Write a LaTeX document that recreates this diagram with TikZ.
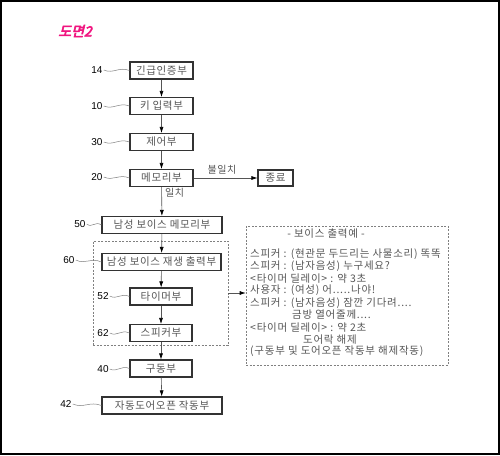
\documentclass[tikz,border=0pt]{standalone}
\usepackage{fontspec}
\setmainfont{Liberation Sans}
\newfontfamily\kr[LetterSpace=6]{Noto Sans CJK KR}
\newfontfamily\krv[LetterSpace=7]{Noto Sans CJK KR}
\newfontfamily\krtitle[FakeSlant=0.25,FakeBold=4]{Noto Sans CJK KR}
\usetikzlibrary{arrows.meta,calc}
\definecolor{boxline}{HTML}{333333}
\definecolor{txt}{HTML}{555555}
\definecolor{pinkt}{HTML}{F0147F}
\begin{document}
\begin{tikzpicture}[x=1pt,y=-1pt,
  box/.style={draw=boxline, line width=1.1pt, fill=white, minimum height=17pt, inner sep=0pt, text=txt, font=\kr\fontsize{10.5}{12}\selectfont},
  num/.style={font=\fontsize{10}{12}\selectfont, inner sep=0pt},
  conn/.style={draw=txt, line width=0.6pt, -{Latex[length=6pt,width=4pt,color=black]}},
  lead/.style={draw=gray, line width=0.5pt},
  grpbox/.style={draw=gray, line width=0.6pt, dash pattern=on 2pt off 1.5pt},
  vtext/.style={font=\krv\fontsize{10.5}{12}\selectfont, text=txt, inner sep=0pt, anchor=west},
  lbl/.style={font=\kr\fontsize{10}{12}\selectfont, text=txt, inner sep=0pt}
]
\useasboundingbox (0,0) rectangle (500,455);
\draw[line width=2pt] (1,1) rectangle (499,454);

\node[font=\krtitle\fontsize{14}{16}\selectfont, text=pinkt, inner sep=0pt] (title) at (75,31) {도면2};

% boxes
\node[box, minimum width=63pt] (b14) at (161.5,70.5) {긴급인증부};
\node[box, minimum width=63pt] (b10) at (161.5,106) {키 입력부};
\node[box, minimum width=63pt] (b30) at (161.5,142) {제어부};
\node[box, minimum width=63pt] (b20) at (161.5,178) {메모리부};
\node[box, minimum width=35pt, minimum height=16pt] (bend) at (275.5,178) {종료};
\node[box, minimum width=120pt] (b50) at (162,225) {남성 보이스 메모리부};
\node[grpbox, minimum width=135pt, minimum height=104pt, inner sep=0pt] (grp) at (160.5,293) {};
\node[box, minimum width=119pt] (b60) at (161.5,262) {남성 보이스 재생 출력부};
\node[box, minimum width=62pt] (b52) at (161,296.5) {타이머부};
\node[box, minimum width=62pt] (b62) at (161,333) {스피커부};
\node[box, minimum width=62pt] (b40) at (161,368.5) {구동부};
\node[box, minimum width=120pt] (b42) at (162,405.5) {자동도어오픈 작동부};

% reference numbers
\node[num] (l14) at (97,70) {14};
\node[num] (l10) at (97,106) {10};
\node[num] (l30) at (97,142) {30};
\node[num] (l20) at (97,177) {20};
\node[num] (l50) at (80,224) {50};
\node[num] (l60) at (69,260) {60};
\node[num] (l52) at (103,296) {52};
\node[num] (l62) at (103,333) {62};
\node[num] (l40) at (103,369) {40};
\node[num] (l42) at (66,404) {42};

\foreach \l/\b in {l14/b14,l10/b10,l30/b30,l20/b20,l50/b50,l60/b60,l52/b52,l62/b62,l40/b40,l42/b42}{
  \draw[lead] ($(\l.east)+(1,0)$) .. controls ($(\l.east)!0.4!(\b.west)+(0,4)$) and ($(\l.east)!0.6!(\b.west)+(0,-4)$) .. (\b.west);
}

% connectors
\draw[conn] (b14) -- (b10);
\draw[conn] (b10) -- (b30);
\draw[conn] (b30) -- (b20);
\draw[conn] (b20) -- (b50);
\draw[conn] (b20) -- (bend);
\draw[conn] (b50) -- (b60);
\draw[conn] (b60) -- (b52);
\draw[conn] (b52) -- (b62);
\draw[conn] (b62) -- (b40);
\draw[conn] (b40) -- (b42);

\node[lbl] (mis) at (222,170) {불일치};
\node[lbl, anchor=west] (match) at (165,193) {일치};

% voice output example
\node[grpbox, minimum width=202pt, minimum height=139pt, inner sep=0pt] (vbox) at (347,295.5) {};
\draw[conn] (grp.east) -- (grp.east -| vbox.west);

\node[vtext, anchor=center] (t0) at (326,234) {- 보이스 출력예 -};
\node[vtext] (t1) at (250,254) {스피커 : (현관문 두드리는 사물소리) 똑똑};
\node[vtext] (t2) at (250,266.2) {스피커 : (남자음성) 누구세요?};
\node[vtext] (t3) at (250,278.4) {<타이머 딜레이> : 약 3초};
\node[vtext] (t4) at (250,290.6) {사용자 : (여성) 어.....나야!};
\node[vtext] (t5) at (250,302.8) {스피커 : (남자음성) 잠깐 기다려....};
\node[vtext] (t6) at (292,315) {금방 열어줄께....};
\node[vtext] (t7) at (250,327.2) {<타이머 딜레이> : 약 2초};
\node[vtext] (t8) at (303,339.4) {도어락 해제};
\node[vtext] (t9) at (250,351.6) {(구동부 및 도어오픈 작동부 해제작동)};
\end{tikzpicture}
\end{document}
